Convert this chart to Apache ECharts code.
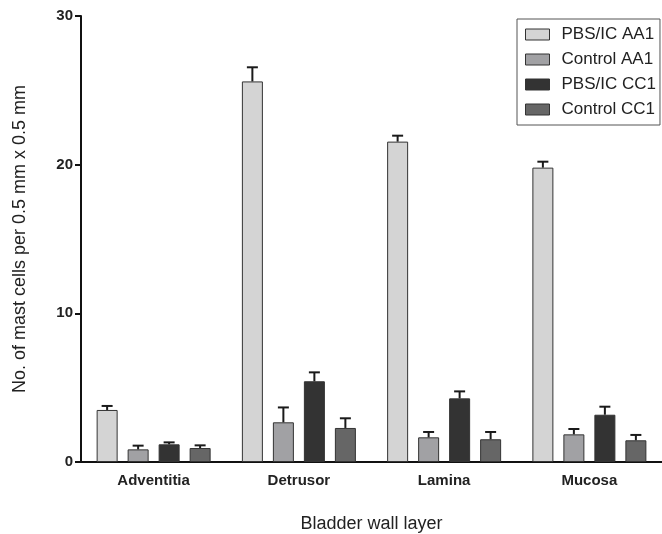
<!DOCTYPE html>
<html>
<head>
<meta charset="utf-8">
<script src="https://cdn.jsdelivr.net/npm/echarts@6/dist/echarts.min.js"></script>
<style>
  html, body { margin: 0; padding: 0; background: #fff; }
  #drew { width: 662px; height: 534px; }
</style>
</head>
<body>
<div id="drew"></div>
<script>
   // data (mean and upper error)
   var layers = ['Adventitia', 'Detrusor', 'Lamina', 'Mucosa'];
   var groups = ['PBS/IC AA1', 'Control AA1', 'PBS/IC CC1', 'Control CC1'];
   var pbsAA1 = [3.5, 25.6, 21.55, 19.8];
   var pbsAA1Err = [0.27, 0.95, 0.4, 0.4];
   var ctlAA1 = [0.85, 2.67, 1.66, 1.86];
   var ctlAA1Err = [0.25, 1.0, 0.36, 0.36];
   var pbsCC1 = [1.19, 5.43, 4.28, 3.18];
   var pbsCC1Err = [0.13, 0.6, 0.47, 0.54];
   var ctlCC1 = [0.94, 2.29, 1.53, 1.46];
   var ctlCC1Err = [0.18, 0.65, 0.49, 0.36];
   var yTicks = [0, 10, 20, 30];

   var colors = ['#d4d4d4', '#a1a1a4', '#333333', '#666666'];
   var means = [pbsAA1, ctlAA1, pbsCC1, ctlCC1];
   var errs = [pbsAA1Err, ctlAA1Err, pbsCC1Err, ctlCC1Err];

   var barW = 21, barGapPx = 10;
   var font = 'Liberation Sans, Arial, sans-serif';

   var series = [];
   groups.forEach(function(name, i) {
       series.push({
           name: name,
           type: 'bar',
           barWidth: barW,
           barGap: (barGapPx / barW * 100) + '%',
           data: means[i],
           itemStyle: { color: colors[i], borderColor: '#333', borderWidth: 1 }
       });
   });
   groups.forEach(function(name, i) {
       var offset = (i - 1.5) * (barW + barGapPx);
       series.push({
           type: 'custom',
           z: 5,
           silent: true,
           data: means[i].map(function(v, k) { return [k, v, errs[i][k]]; }),
           renderItem: function(params, api) {
               var base = api.coord([api.value(0), api.value(1)]);
               var top = api.coord([api.value(0), api.value(1) + api.value(2)]);
               var x = base[0] + offset;
               var st = { stroke: '#1a1a1a', lineWidth: 2 };
               return {
                   type: 'group',
                   children: [
                       { type: 'line', shape: { x1: x, y1: base[1], x2: x, y2: top[1] }, style: st },
                       { type: 'line', shape: { x1: x - 5.5, y1: top[1], x2: x + 5.5, y2: top[1] }, style: st }
                   ]
               };
           }
       });
   });

   var myChart = echarts.init(document.getElementById('drew'));
   var option = {
       backgroundColor: '#fff',
       animation: false,
       textStyle: { fontFamily: font },
       legend: {
           data: groups,
           orient: 'vertical',
           left: 517,
           top: 19,
           icon: 'rect',
           padding: [7, 4, 7, 8],
           itemGap: 8,
           itemWidth: 24,
           itemHeight: 11,
           borderColor: '#555',
           borderWidth: 1,
           itemStyle: { borderColor: '#333', borderWidth: 1 },
           textStyle: { fontSize: 17, lineHeight: 17, color: '#222', fontFamily: font, padding: [0, 0, 0, 7] }
       },
       grid: { left: 81, top: 16, bottom: 72, right: 0, outerBoundsMode: 'none' },
       xAxis: {
           type: 'category',
           data: layers,
           name: 'Bladder wall layer',
           nameLocation: 'middle',
           nameGap: 53,
           nameTextStyle: { fontSize: 18, color: '#222' },
           axisLine: { lineStyle: { color: '#111', width: 2 } },
           axisTick: { alignWithLabel: true, length: 5, lineStyle: { width: 2, color: '#111' } },
           axisLabel: { fontSize: 15, fontWeight: 'bold', color: '#222', margin: 11 }
       },
       yAxis: {
           type: 'value',
           min: yTicks[0],
           max: yTicks[yTicks.length - 1],
           interval: 10,
           name: 'No. of mast cells per 0.5 mm x 0.5 mm',
           nameLocation: 'middle',
           nameGap: 52,
           nameTextStyle: { fontSize: 18, color: '#222' },
           splitLine: { show: false },
           axisLine: { show: true, lineStyle: { color: '#111', width: 2 } },
           axisTick: { show: true, length: 6, lineStyle: { width: 2, color: '#111' } },
           axisLabel: { fontSize: 15, fontWeight: 'bold', color: '#222', margin: 8 }
       },
       series: series
   };
   myChart.setOption(option);
</script>
</body>
</html>
